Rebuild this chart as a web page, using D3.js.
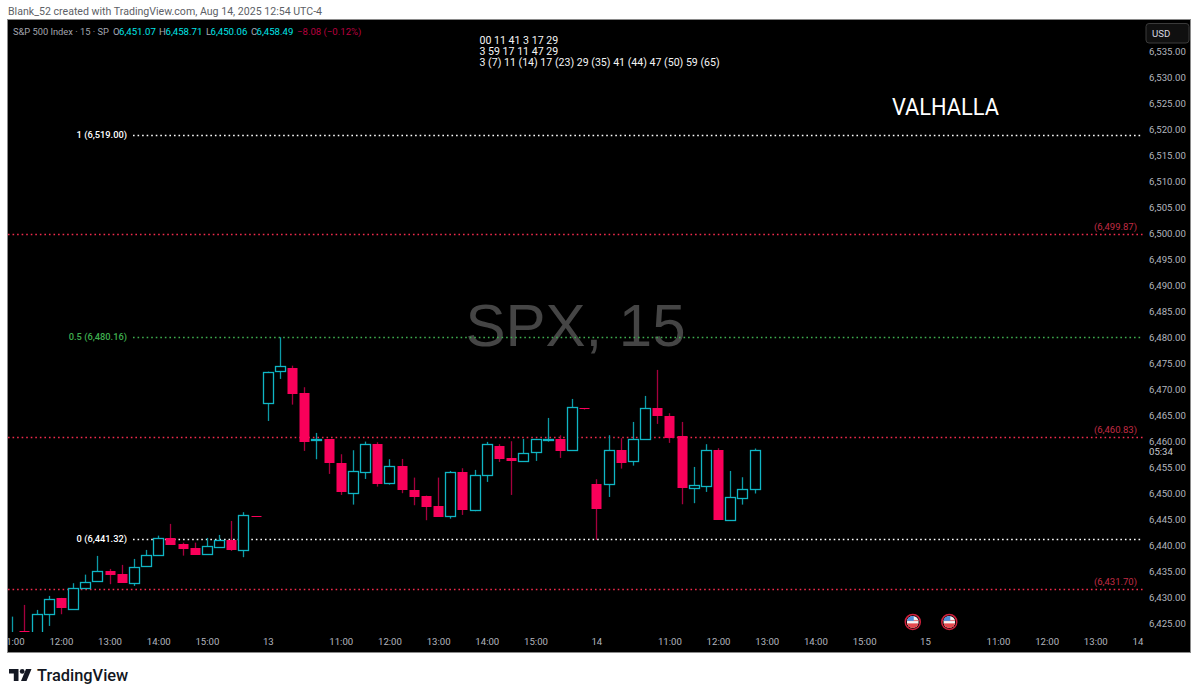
<!DOCTYPE html>
<html>
<head>
<meta charset="utf-8">
<title>SPX, 15</title>
<script src="https://cdn.jsdelivr.net/npm/d3@7/dist/d3.min.js"></script>
<style>
  html, body { margin: 0; padding: 0; background: #fff; }
  svg { display: block; }
  text { font-family: Roboto, "Liberation Sans", sans-serif; }
</style>
</head>
<body>
<svg id="chart" width="1200" height="698"></svg>
<script>
// 15-minute SPX session bars, one entry per bar in time order
const opens = [6420,6423.71,6421,6426.86,6429.94,6428.01,6431.92,6433.13,6435.18,6434.61,6432.94,6436.14,6438.32,6441.53,6440.37,6439.55,6438.39,6439.85,6441.14,6439.28,6445.70,
  6467.42,6473.57,6474.26,6469.45,6460.44,6460.50,6456.00,6450.12,6454.15,6459.60,6451.96,6455.31,6450.81,6449.66,6447.68,6445.62,6454.27,6446.97,6453.58,6459.21,6456.90,6456.33,6457.92,6460.40,6460.61,6458.50,6466.42,
  6451.96,6451.96,6458.50,6456.19,6460.50,6466.57,6465.03,6461.07,6451.00,6451.58,6458.44,6444.93,6449.16,6451.07];
const highs = [6426.4,6428.65,6427.69,6430.38,6430,6432.82,6434.47,6438.07,6435.57,6436.34,6437.49,6439.22,6441.97,6444.22,6440.62,6440.62,6441.53,6442.10,6444.79,6446.47,6445.70,
  6473.49,6480.10,6474.64,6470.49,6461.71,6460.50,6457.61,6458.38,6460.04,6459.92,6456.65,6456.71,6453.12,6449.66,6453.12,6454.40,6454.92,6454.60,6459.98,6459.54,6460.11,6460.55,6460.55,6464.59,6461.27,6468.24,6466.50,
  6452.81,6461.27,6460.69,6463.82,6468.82,6473.82,6465.49,6463.82,6455.17,6459.54,6458.77,6454.40,6453.19,6458.71];
const lows = [6418,6420,6420,6424.61,6426.86,6428.01,6431.72,6433.13,6432.63,6432.94,6432.30,6436.14,6438.32,6440.18,6438.12,6438.26,6438.39,6439.85,6439.03,6437.82,6445.55,
  6464.01,6472.09,6467.15,6458.25,6456.65,6453.83,6449.79,6447.93,6452.86,6451.39,6451.77,6450.12,6447.81,6444.93,6445.62,6445.23,6445.95,6446.66,6452.29,6456.13,6449.79,6456.33,6456.33,6460.04,6456.90,6458.50,6466.20,
  6441.14,6449.40,6454.85,6455.42,6460.50,6463.44,6459.79,6448.00,6448.20,6450.37,6445.04,6444.93,6447.93,6450.06];
const closes = [6423,6421,6426.86,6429.80,6428.07,6431.97,6433.13,6435.13,6434.47,6432.94,6436.01,6438.32,6441.53,6440.18,6439.41,6438.26,6439.93,6441.14,6439.28,6446.00,6445.55,
  6473.37,6474.53,6469.34,6460.04,6460.55,6455.88,6450.37,6454.40,6459.60,6451.91,6455.31,6450.69,6449.54,6447.48,6445.62,6454.15,6446.91,6453.69,6459.54,6456.77,6456.33,6457.86,6460.50,6460.55,6458.31,6466.70,6466.28,
  6447.23,6458.50,6456.00,6460.50,6466.51,6465.03,6460.88,6451.14,6451.66,6458.44,6445.04,6449.35,6450.89,6458.49];

// Price axis labels
const priceTicks = d3.range(6425, 6536, 5);

// Time axis: bar slot and its label
const timeSlots = [0,4,8,12,16,21,27,31,35,39,43,48,54,58,62,66,70,75,81,85,89,93];
const timeLabels = ["11:00","12:00","13:00","14:00","15:00","13","11:00","12:00","13:00","14:00","15:00","14","11:00","12:00","13:00","14:00","15:00","15","11:00","12:00","13:00","14:00"];

// Horizontal levels
const fibLevels = [6519.00, 6480.16, 6441.32];
const fibLabels = ["1 (6,519.00)", "0.5 (6,480.16)", "0 (6,441.32)"];
const redLevels = [6499.87, 6460.83, 6431.70];
const redLabels = ["(6,499.87)", "(6,460.83)", "(6,431.70)"];

// Economic calendar markers, by bar slot
const eventSlots = [74, 77];

// Heading strings
const legendTexts = ["S&P 500 Index · 15 · SP", "O", "6,451.07", "H", "6,458.71", "L", "6,450.06", "C", "6,458.49", "−8.08 (−0.12%)"];
const noteLines = ["00 11 41 3 17 29", "3 59 17 11 47 29", "3 (7) 11 (14) 17 (23) 29 (35) 41 (44) 47 (50) 59 (65)"];

const frame = { left: 8, top: 20, right: 1191, bottom: 653 };
const paneRight = 1145, paneBottom = 632;
const legendX = [13, 113, 119, 159, 165.5, 206, 210.5, 251, 256.5, 297];
const legendFill = ["#a3a6af", "#a3a6af", "#00e5e8", "#a3a6af", "#00e5e8", "#a3a6af", "#00e5e8", "#a3a6af", "#00e5e8", "#b8003f"];
const fibFill = ["#ffffff", "#3fae4f", "#ffffff"];

const svg = d3.select("#chart");
const x = d3.scaleLinear().domain([0, 93]).range([12.2, 1144]);
const y = d3.scaleLinear().domain([6425, 6535]).range([623.9, 51.6]);

const defs = svg.append("defs");
defs.append("clipPath").attr("id", "paneClip").append("rect")
  .attr("x", frame.left).attr("y", frame.top)
  .attr("width", paneRight - frame.left).attr("height", paneBottom - frame.top);
defs.append("clipPath").attr("id", "timeClip").append("rect")
  .attr("x", frame.left).attr("y", paneBottom)
  .attr("width", 1143.5 - frame.left).attr("height", frame.bottom - paneBottom);

// Attribution line above the chart
svg.append("text").attr("x", 8).attr("y", 15).attr("font-size", 10.6).attr("fill", "#5d5f66")
  .text("Blank_52 created with TradingView.com, Aug 14, 2025 12:54 UTC-4");

// Chart frame
svg.append("rect").attr("x", frame.left - 0.5).attr("y", frame.top - 0.5)
  .attr("width", frame.right - frame.left).attr("height", frame.bottom - frame.top)
  .attr("fill", "#000").attr("stroke", "#8a8a8a");

// Symbol watermark
svg.append("text").attr("x", 575.5).attr("y", 345.5).attr("text-anchor", "middle")
  .attr("font-size", 60).attr("fill", "#454545")
  .style("font-family", '"Liberation Sans", sans-serif').text("SPX, 15");

const pane = svg.append("g").attr("clip-path", "url(#paneClip)");

// Dotted level lines
pane.selectAll(".red-level").data(redLevels).join("line").attr("class", "red-level")
  .attr("x1", frame.left).attr("x2", 1143)
  .attr("y1", d => Math.round(y(d)) + 0.5).attr("y2", d => Math.round(y(d)) + 0.5)
  .attr("stroke", "#f02b4c").attr("stroke-width", 1.3).attr("stroke-dasharray", "1.6 2.95");
pane.selectAll(".fib-level").data(fibLevels).join("line").attr("class", "fib-level")
  .attr("x1", 133).attr("x2", 1143)
  .attr("y1", d => Math.round(y(d)) + 0.5).attr("y2", d => Math.round(y(d)) + 0.5)
  .attr("stroke", (d, i) => fibFill[i]).attr("stroke-width", 1.3).attr("stroke-dasharray", "1.6 2.95");

// Level captions
svg.selectAll(".fib-label").data(fibLevels).join("text").attr("class", "fib-label")
  .attr("x", 127).attr("y", d => y(d) + 3.5).attr("text-anchor", "end")
  .attr("font-size", 9.3).attr("font-weight", 500).attr("fill", (d, i) => fibFill[i])
  .text((d, i) => fibLabels[i]);
svg.selectAll(".red-label").data(redLevels).join("text").attr("class", "red-label")
  .attr("x", 1137).attr("y", d => y(d) - 4).attr("text-anchor", "end")
  .attr("font-size", 9.5).attr("fill", "#c02c44")
  .text((d, i) => redLabels[i]);

// Candles
const bars = d3.range(opens.length).map(i => ({
  i, o: opens[i], h: highs[i], l: lows[i], c: closes[i], up: closes[i] >= opens[i]
}));
const candle = pane.selectAll(".candle").data(bars).join("g").attr("class", "candle");
candle.append("line")
  .attr("x1", d => Math.round(x(d.i)) + 0.5).attr("x2", d => Math.round(x(d.i)) + 0.5)
  .attr("y1", d => y(d.h)).attr("y2", d => y(d.l))
  .attr("stroke-width", 1.3)
  .attr("stroke", d => d.up ? "#0c9aa6" : "#a5003d");
candle.append("rect")
  .attr("x", d => Math.round(x(d.i)) - 4.5).attr("width", 10)
  .attr("y", d => Math.round(y(Math.max(d.o, d.c))) + (d.up ? 0.5 : 0))
  .attr("height", d => Math.max(1, Math.round(Math.abs(y(d.o) - y(d.c)))))
  .attr("fill", d => d.up ? "#000" : "#f9005a")
  .attr("stroke-width", 1.3)
  .attr("stroke", d => d.up ? "#0fb5c4" : "none");

// Price axis
const priceAxis = d3.axisRight(y).tickValues(priceTicks).tickSize(0).tickPadding(0)
  .tickFormat(d3.format(",.2f"));
const priceG = svg.append("g").attr("transform", "translate(1149,0)").call(priceAxis);
priceG.select(".domain").remove();
priceG.selectAll("text").attr("font-size", 9.6).attr("fill", "#b2b5be")
  .style("font-family", "Roboto, sans-serif");

// Countdown to bar close sits over the axis labels
svg.append("rect").attr("x", 1146).attr("y", 446).attr("width", 44).attr("height", 11).attr("fill", "#000");
svg.append("text").attr("x", 1149).attr("y", 455).attr("font-size", 9.6).attr("fill", "#c8cad0").text("05:34");

// Currency button
svg.append("rect").attr("x", 1146).attr("y", 23.5).attr("width", 43).attr("height", 19.5).attr("rx", 3)
  .attr("fill", "#101010").attr("stroke", "#3a3a3a");
svg.append("text").attr("x", 1152).attr("y", 37).attr("font-size", 9.6).attr("fill", "#d8dae0").text("USD");

// Time axis
const timeAxis = d3.axisBottom(x).tickValues(timeSlots).tickSize(0).tickPadding(0)
  .tickFormat(d => timeLabels[timeSlots.indexOf(d)]);
const timeG = svg.append("g").attr("clip-path", "url(#timeClip)")
  .append("g").attr("transform", "translate(0,638)").call(timeAxis);
timeG.select(".domain").remove();
timeG.selectAll("text").attr("font-size", 9.6).attr("fill", "#b2b5be")
  .style("font-family", "Roboto, sans-serif");

// Calendar markers: small US flag in a red ring
const evY = y(6425) - 2;
eventSlots.forEach((slot, k) => {
  const cx = x(slot), id = "flag" + k;
  defs.append("clipPath").attr("id", id).append("circle").attr("cx", cx).attr("cy", evY).attr("r", 6);
  const g = svg.append("g");
  g.append("circle").attr("cx", cx).attr("cy", evY).attr("r", 7.5).attr("fill", "#000").attr("stroke", "#d0203c").attr("stroke-width", 1.5);
  const f = g.append("g").attr("clip-path", `url(#${id})`);
  f.append("rect").attr("x", cx - 6).attr("y", evY - 6).attr("width", 12).attr("height", 12).attr("fill", "#f4f4f4");
  f.append("rect").attr("x", cx - 6).attr("y", evY + 1.5).attr("width", 12).attr("height", 5).attr("fill", "#e5484d");
  f.append("rect").attr("x", cx - 6).attr("y", evY - 2).attr("width", 12).attr("height", 1.2).attr("fill", "#e5787c");
  f.append("rect").attr("x", cx - 6).attr("y", evY - 6).attr("width", 7).attr("height", 5).attr("fill", "#4f8fdc");
});

// Legend row
svg.selectAll(".legend").data(legendTexts).join("text").attr("class", "legend")
  .attr("x", (d, i) => legendX[i]).attr("y", 34.5)
  .attr("font-size", (d, i) => i === 0 ? 9.3 : 9.6)
  .attr("fill", (d, i) => legendFill[i]).text(d => d);

// Session notes
svg.selectAll(".note").data(noteLines).join("text").attr("class", "note")
  .attr("x", 479.5).attr("y", (d, i) => 44.3 + i * 10.6).attr("font-size", 10.6)
  .attr("fill", "#f4f4f4").text(d => d);

svg.append("text").attr("x", 892).attr("y", 115).attr("font-size", 24)
  .attr("textLength", 107).attr("lengthAdjust", "spacingAndGlyphs")
  .attr("fill", "#fff").text("VALHALLA");

// Brand mark and wordmark below the chart
const logo = svg.append("g").attr("transform", "translate(9,669)").attr("fill", "#131722");
logo.append("path").attr("d", "M0 0H9.5V12H4.8V4.6H0Z");
logo.append("circle").attr("cx", 13.2).attr("cy", 2.4).attr("r", 2.4);
logo.append("path").attr("d", "M17 0H22.5L17.5 12H12Z");
svg.append("text").attr("x", 37).attr("y", 681).attr("font-size", 16.4).attr("font-weight", 500)
  .attr("fill", "#131722").text("TradingView");
</script>
</body>
</html>
